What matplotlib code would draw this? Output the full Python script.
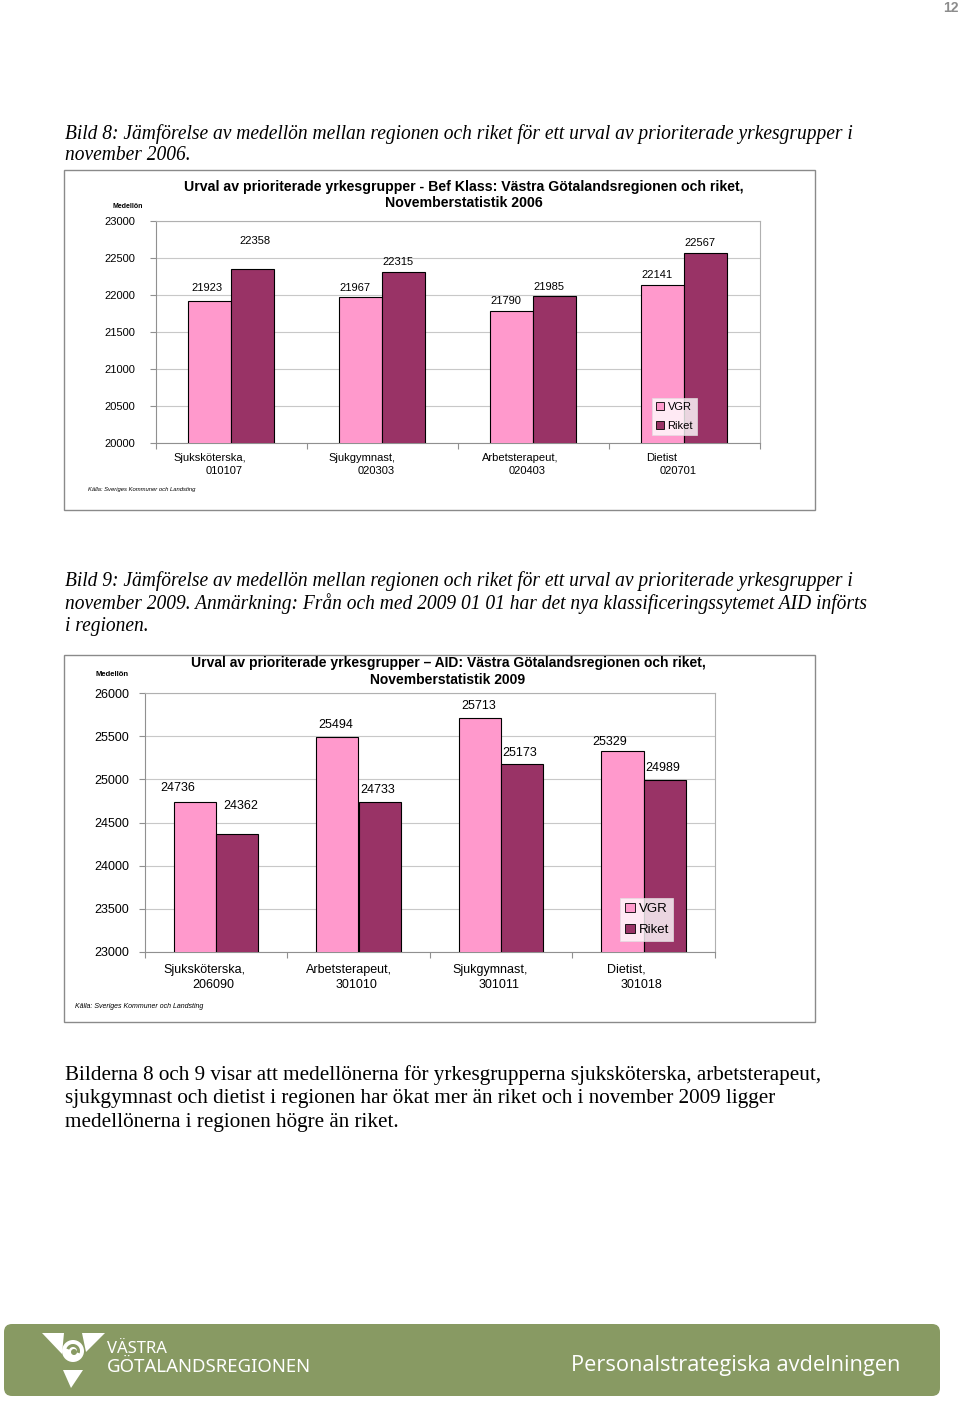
import matplotlib
matplotlib.use("Agg")
import matplotlib.pyplot as plt
from matplotlib.patches import Rectangle, FancyBboxPatch, Polygon, Circle, Wedge
import numpy as np

# ---------------- data ----------------
cats1_line1 = ["Sjuksköterska,", "Sjukgymnast,", "Arbetsterapeut,", "Dietist"]
cats1_line2 = ["010107", "020303", "020403", "020701"]
vgr_2006 = [21923, 21967, 21790, 22141]
riket_2006 = [22358, 22315, 21985, 22567]
yticks1 = [20000, 20500, 21000, 21500, 22000, 22500, 23000]

cats2_line1 = ["Sjuksköterska,", "Arbetsterapeut,", "Sjukgymnast,", "Dietist,"]
cats2_line2 = ["206090", "301010", "301011", "301018"]
vgr_2009 = [24736, 25494, 25713, 25329]
riket_2009 = [24362, 24733, 25173, 24989]
yticks2 = [23000, 23500, 24000, 24500, 25000, 25500, 26000]

series_names = ["VGR", "Riket"]
title1 = "Urval av prioriterade yrkesgrupper - Bef Klass: Västra Götalandsregionen och riket,\nNovemberstatistik 2006"
title2 = "Urval av prioriterade yrkesgrupper – AID: Västra Götalandsregionen och riket,\nNovemberstatistik 2009"
caption1 = ["Bild 8: Jämförelse av medellön mellan regionen och riket för ett urval av prioriterade yrkesgrupper i",
            "november 2006."]
caption2 = ["Bild 9: Jämförelse av medellön mellan regionen och riket för ett urval av prioriterade yrkesgrupper i",
            "november 2009. Anmärkning: Från och med 2009 01 01 har det nya klassificeringssytemet AID införts",
            "i regionen."]
body = ["Bilderna 8 och 9 visar att medellönerna för yrkesgrupperna sjuksköterska, arbetsterapeut,",
        "sjukgymnast och dietist i regionen har ökat mer än riket och i november 2009 ligger",
        "medellönerna i regionen högre än riket."]
source = "Källa: Sveriges Kommuner och Landsting"
ylab = "Medellön"

# ---------------- style ----------------
PINK = "#FF99CC"
PLUM = "#993366"
SANS = ["Liberation Sans", "DejaVu Sans"]
SERIF = ["Liberation Serif", "DejaVu Serif"]
W, H = 960, 1402

fig = plt.figure(figsize=(W / 100, H / 100), dpi=100)
page = fig.add_axes([0, 0, 1, 1], zorder=0)
page.set_xlim(0, W)
page.set_ylim(H, 0)
page.axis("off")


def fpos(x0, y0, x1, y1):
    return [x0 / W, 1 - y1 / H, (x1 - x0) / W, (y1 - y0) / H]


# page number
page.text(958, 8, "12", ha="right", va="center", fontsize=10, fontweight="bold",
          color="#8c8c8c", family=SANS)

# captions
for i, line in enumerate(caption1):
    page.text(65, 134 + 22 * i, line, ha="left", va="center", fontsize=14.05,
              style="italic", family=SERIF, color="black")
for i, line in enumerate(caption2):
    page.text(65, 581 + 22.5 * i, line, ha="left", va="center", fontsize=14.05,
              style="italic", family=SERIF, color="black")
for i, line in enumerate(body):
    page.text(65, 1075 + 24 * i, line, ha="left", va="center", fontsize=15.2,
              family=SERIF, color="black")

# chart frames
page.add_patch(Rectangle((64, 170), 751, 340, facecolor="white", edgecolor="#8a8a8a", lw=1))
page.add_patch(Rectangle((64, 655), 751, 367, facecolor="white", edgecolor="#8a8a8a", lw=1))


def draw_chart(rect, vgr, riket, yticks, l1, l2, barw, lab_fs, tick_fs, ypad,
               val_offsets, cat_off1, cat_off2, cat_dy, legend_box, leg_fs, leg_sp):
    ax = fig.add_axes(rect, zorder=2)
    x = np.arange(len(vgr))
    ax.bar(x - barw / 2, vgr, width=barw, color=PINK, edgecolor="black", lw=0.8,
           label=series_names[0], zorder=3)
    ax.bar(x + barw / 2, riket, width=barw, color=PLUM, edgecolor="black", lw=0.8,
           label=series_names[1], zorder=3)
    ax.set_xlim(-0.5, len(vgr) - 0.5)
    ax.set_ylim(yticks[0], yticks[-1])
    ax.set_yticks(yticks)
    ax.set_yticklabels([str(t) for t in yticks], fontsize=tick_fs, family=SANS)
    ax.yaxis.grid(True, color="#c8c8c8", lw=0.8, zorder=0)
    ax.set_axisbelow(True)
    ax.set_xticks(np.arange(len(vgr) + 1) - 0.5)
    ax.set_xticklabels([])
    ax.tick_params(axis="x", length=4, color="#909090", direction="out")
    ax.tick_params(axis="y", length=4, color="#909090", direction="out", pad=ypad)
    for s in ["top", "right"]:
        ax.spines[s].set_color("#b0b0b0")
    for s in ["left", "bottom"]:
        ax.spines[s].set_color("#909090")
    # value labels
    vals = list(vgr) + list(riket)
    xs = list(x - barw / 2) + list(x + barw / 2)
    for k, (xx, v) in enumerate(zip(xs, vals)):
        dx, dy = val_offsets[k]
        ax.annotate(str(v), xy=(xx, v), xytext=(dx, dy), textcoords="offset pixels",
                    ha="center", va="center", fontsize=lab_fs, family=SANS)
    # category labels
    for i in range(len(vgr)):
        ax.annotate(l1[i], xy=(i, 0), xycoords=("data", "axes fraction"),
                    xytext=(cat_off1[i], -cat_dy[0]), textcoords="offset pixels",
                    ha="center", va="center", fontsize=tick_fs, family=SANS)
        ax.annotate(l2[i], xy=(i, 0), xycoords=("data", "axes fraction"),
                    xytext=(cat_off2[i], -cat_dy[1]), textcoords="offset pixels",
                    ha="center", va="center", fontsize=tick_fs, family=SANS)
    lx0, ly0, lx1, ly1 = legend_box
    leg = ax.legend(loc="upper left", bbox_to_anchor=(lx0 / W, 1 - ly0 / H),
                    bbox_transform=fig.transFigure, frameon=True, fancybox=False,
                    handlelength=0.75, handleheight=0.75,
                    handletextpad=0.3, borderpad=0.35, labelspacing=leg_sp,
                    borderaxespad=0, prop={"family": SANS, "size": leg_fs})
    leg.get_frame().set_edgecolor("#e0e0e0")
    leg.get_frame().set_linewidth(0.6)
    for h in leg.legend_handles:
        h.set_edgecolor("black")
        h.set_linewidth(0.6)
    return ax


# chart 1
page.text(464, 187, title1.split("\n")[0], ha="center", va="center", fontsize=10.2,
          fontweight="bold", family=SANS)
page.text(464, 203, title1.split("\n")[1], ha="center", va="center", fontsize=10.2,
          fontweight="bold", family=SANS)
page.text(128, 206, ylab, ha="center", va="center", fontsize=5, fontweight="bold", family=SANS)
page.text(88, 489, source, ha="left", va="center", fontsize=4.2, style="italic", family=SANS)
off1 = [(-2.5, 12.7), (-5.5, 9.4), (-5.5, 9.5), (-5.5, 9.6),
        (2.5, 27.5), (-5.5, 9.7), (-5.5, 9), (-5.5, 10)]
draw_chart(fpos(155.5, 221, 759.5, 443), vgr_2006, riket_2006, yticks1,
           cats1_line1, cats1_line2, 0.285, 8, 8, 10.5, off1,
           [-21, -20, -13, -22], [-7, -6, -6, -6], (15, 28),
           (652, 398, 700, 435), 8, 0.8)

# chart 2
page.text(448, 663, title2.split("\n")[0], ha="center", va="center", fontsize=10,
          fontweight="bold", family=SANS)
page.text(448, 680, title2.split("\n")[1], ha="center", va="center", fontsize=10,
          fontweight="bold", family=SANS)
page.text(112, 675, ylab, ha="center", va="center", fontsize=5.5, fontweight="bold", family=SANS)
page.text(75, 1007, source, ha="left", va="center", fontsize=5, style="italic", family=SANS)
off2 = [(-17, 14), (-2, 11.5), (-1, 11.6), (-13, 8.6),
        (4, 28), (-2, 12), (-2, 11), (-2, 12)]
draw_chart(fpos(144.75, 693, 714.75, 952), vgr_2009, riket_2009, yticks2,
           cats2_line1, cats2_line2, 0.295, 9, 9, 7, off2,
           [-12, -10, -11, -17], [-3, -2, -2, -2], (18, 33),
           (620, 898, 668, 942), 9.5, 0.65)

# footer
GREEN = "#889a63"
page.add_patch(FancyBboxPatch((4, 1324), 936, 72, boxstyle="round,pad=0,rounding_size=8",
                              facecolor=GREEN, edgecolor="none"))
white = "white"
page.add_patch(Polygon([(42, 1333), (64, 1333), (62, 1354)], closed=True, fc=white, ec="none"))
page.add_patch(Polygon([(82, 1333), (105, 1333), (86, 1352)], closed=True, fc=white, ec="none"))
page.add_patch(Polygon([(63, 1370), (83, 1370), (71, 1388)], closed=True, fc=white, ec="none"))
page.add_patch(Circle((73, 1351), 11, fc=white, ec="none"))
page.add_patch(Wedge((73, 1351), 7, 200, 20, width=3, fc=GREEN, ec="none"))
page.add_patch(Circle((74, 1352), 3, fc=GREEN, ec="none"))
page.text(107, 1349, "VÄSTRA", ha="left", va="center", fontsize=12, color=white,
          family=["Noto Sans", "DejaVu Sans"])
page.text(107, 1367, "GÖTALANDSREGIONEN", ha="left", va="center", fontsize=13.4, color=white,
          family=["Noto Sans", "DejaVu Sans"])
page.text(900, 1365, "Personalstrategiska avdelningen", ha="right", va="center", fontsize=15.7,
          color=white, family=["Open Sans", "DejaVu Sans"])

fig.savefig("out.png", dpi=100)
